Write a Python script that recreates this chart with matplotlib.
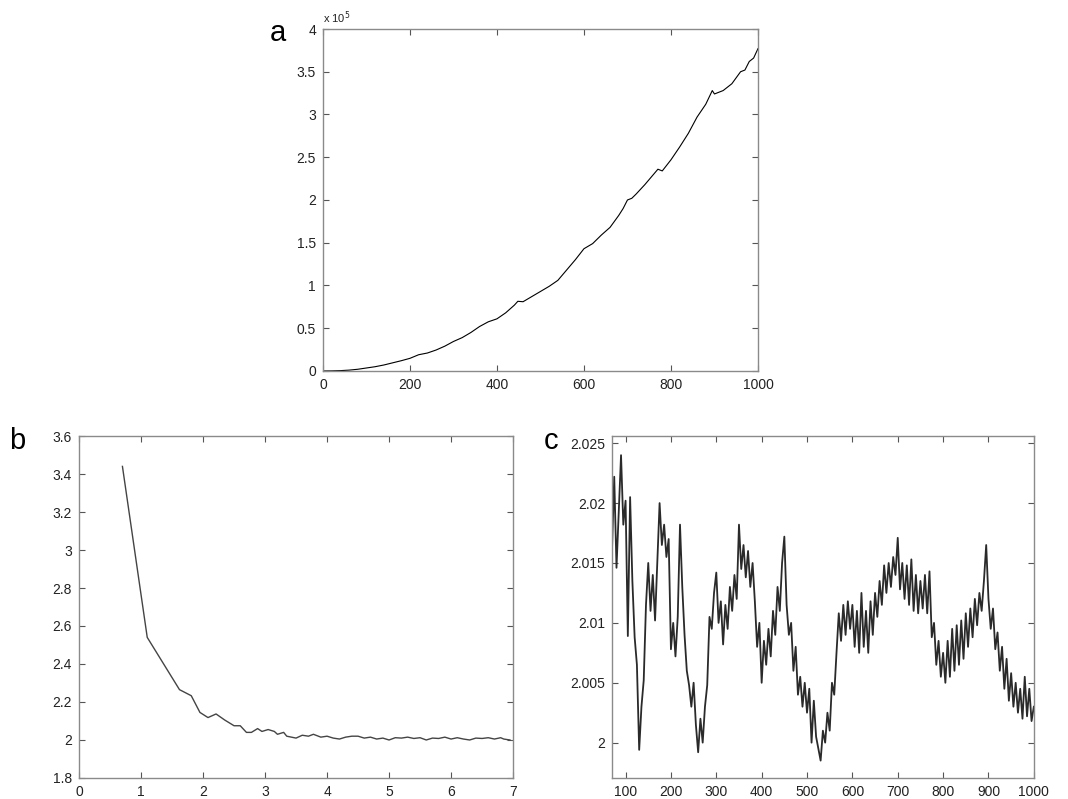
import matplotlib
matplotlib.use("Agg")
import matplotlib.pyplot as plt
import numpy as np
from matplotlib.ticker import FormatStrFormatter

plt.rcParams['font.family'] = ['Liberation Sans', 'DejaVu Sans']

# panel a (y in units of 1e5)
xa = [0, 20, 40, 60, 80, 100, 120, 140, 160, 180, 200, 220, 240, 260, 280, 300,
      320, 340, 360, 380, 400, 420, 440, 448, 460, 480, 500, 520, 540, 560, 580,
      600, 620, 640, 660, 680, 690, 700, 710, 720, 740, 760, 770, 780, 800, 820,
      840, 860, 880, 895, 900, 910, 920, 940, 960, 970, 980, 990, 1000]
ya = [0, 0.001, 0.004, 0.01, 0.02, 0.035, 0.05, 0.07, 0.095, 0.12, 0.148, 0.19,
      0.21, 0.245, 0.29, 0.345, 0.39, 0.45, 0.52, 0.575, 0.61, 0.68, 0.77, 0.815,
      0.81, 0.87, 0.93, 0.99, 1.06, 1.18, 1.30, 1.43, 1.49, 1.59, 1.68, 1.82,
      1.90, 2.00, 2.02, 2.07, 2.18, 2.30, 2.36, 2.34, 2.47, 2.62, 2.78, 2.97,
      3.12, 3.28, 3.24, 3.26, 3.28, 3.36, 3.50, 3.52, 3.62, 3.66, 3.77]

# panel b
xb = [0.70, 1.10, 1.62, 1.81, 1.95, 2.08, 2.21, 2.35, 2.50, 2.60, 2.70, 2.78,
      2.88, 2.95, 3.05, 3.15, 3.20, 3.30, 3.35, 3.50, 3.60, 3.70, 3.78, 3.90,
      4.00, 4.10, 4.20, 4.30, 4.40, 4.50, 4.60, 4.70, 4.80, 4.90, 5.00, 5.10,
      5.20, 5.30, 5.40, 5.50, 5.60, 5.70, 5.80, 5.90, 6.00, 6.10, 6.20, 6.30,
      6.40, 6.50, 6.60, 6.70, 6.80, 6.85, 6.95]
yb = [3.44, 2.54, 2.265, 2.233, 2.145, 2.118, 2.137, 2.105, 2.075, 2.075, 2.04,
      2.04, 2.06, 2.045, 2.055, 2.045, 2.03, 2.04, 2.02, 2.01, 2.025, 2.02,
      2.03, 2.015, 2.02, 2.01, 2.005, 2.015, 2.02, 2.02, 2.01, 2.015, 2.005,
      2.01, 2.0, 2.012, 2.01, 2.015, 2.008, 2.012, 2.0, 2.01, 2.008, 2.015,
      2.005, 2.012, 2.005, 2.0, 2.01, 2.008, 2.012, 2.005, 2.012, 2.005, 2.0]

# panel c (offset from 2, units of 1e-4), x from 70 to 1000 every 5
xc = np.arange(70, 1001, 5)
dc = [160, 222, 146, 192, 240, 182, 202, 89, 205, 135, 88, 65, -6, 30, 52, 115,
      150, 110, 140, 102, 150, 200, 165, 182, 155, 170, 78, 100, 72, 105, 182,
      130, 90, 60, 48, 30, 50, 15, -8, 20, 0, 30, 48, 105, 95, 125, 142, 100,
      118, 82, 115, 95, 130, 110, 140, 120, 182, 145, 165, 138, 160, 130, 150,
      118, 80, 100, 50, 85, 65, 95, 72, 110, 90, 130, 110, 150, 172, 115, 90,
      100, 60, 80, 40, 55, 30, 50, 25, 45, 0, 35, 5, -5, -15, 10, 0, 25, 10,
      50, 40, 75, 108, 85, 115, 90, 118, 95, 115, 80, 110, 75, 125, 80, 110,
      75, 118, 90, 125, 105, 135, 115, 148, 125, 150, 130, 155, 140, 171, 128,
      150, 120, 148, 115, 153, 110, 140, 108, 135, 112, 140, 108, 143, 88, 100,
      65, 85, 55, 75, 50, 85, 55, 95, 60, 98, 65, 102, 70, 108, 80, 112, 88,
      120, 98, 125, 110, 135, 165, 120, 95, 112, 78, 92, 60, 80, 45, 70, 35,
      58, 30, 50, 25, 45, 20, 55, 22, 45, 18, 30]
yc = 2 + np.array(dc) / 10000

fig = plt.figure(figsize=(10.68, 7.99), dpi=100)
ax_a = fig.add_axes([0.3024, 0.5357, 0.4073, 0.428])
ax_b = fig.add_axes([0.074, 0.0263, 0.4064, 0.428])
ax_c = fig.add_axes([0.573, 0.0263, 0.395, 0.428])

for ax in (ax_a, ax_b, ax_c):
    for s in ax.spines.values():
        s.set_color('#8a8a8a')
        s.set_linewidth(1.0)
    ax.tick_params(direction='in', length=4, width=0.8, color='#555555',
                   top=True, right=True, labelsize=10, pad=5, labelcolor='#222222')
    ax.yaxis.set_major_formatter(FormatStrFormatter('%g'))
    ax.xaxis.set_major_formatter(FormatStrFormatter('%g'))

ax_a.plot(xa, ya, color='black', lw=0.8)
ax_a.set_xlim(0, 1000)
ax_a.set_ylim(0, 4)
ax_a.set_xticks(np.arange(0, 1001, 200))
ax_a.set_yticks(np.arange(0, 4.01, 0.5))
ax_a.text(0.0, 1.01, r'x 10$^5$', transform=ax_a.transAxes, fontsize=8,
          ha='left', va='bottom', color='#222222')

ax_b.plot(xb, yb, color='#444444', lw=1.0)
ax_b.set_xlim(0, 7)
ax_b.set_ylim(1.8, 3.6)
ax_b.set_xticks(np.arange(0, 8, 1))
ax_b.set_yticks(np.arange(1.8, 3.61, 0.2))

ax_c.plot(xc, yc, color='#2a2a2a', lw=1.3)
ax_c.set_xlim(70, 1000)
ax_c.set_ylim(1.99705, 2.0256)
ax_c.set_xticks(np.arange(100, 1001, 100))
ax_c.set_yticks([2.0, 2.005, 2.01, 2.015, 2.02, 2.025])

fig.text(278 / 1068, 1 - 33 / 799, 'a', fontsize=21, ha='center', va='center')
fig.text(17 / 1068, 1 - 441 / 799, 'b', fontsize=21, ha='center', va='center')
fig.text(551 / 1068, 1 - 441 / 799, 'c', fontsize=21, ha='center', va='center')

fig.savefig('out.png', dpi=100)
